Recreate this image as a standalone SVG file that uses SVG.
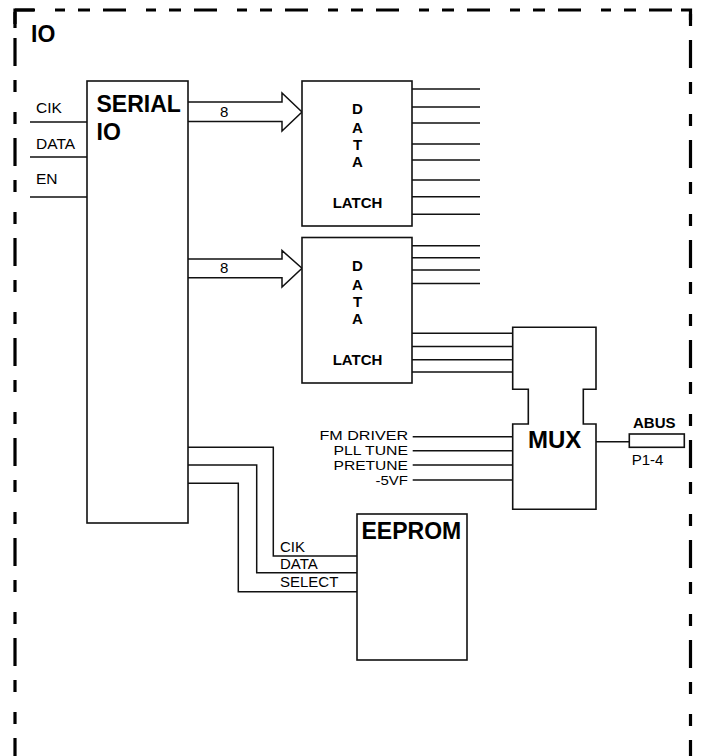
<svg xmlns="http://www.w3.org/2000/svg" width="704" height="756" viewBox="0 0 704 756">
<style>
.box{fill:#fff;stroke:#111;stroke-width:1.6}
.ln{fill:none;stroke:#111;stroke-width:1.5}
.frame{fill:none;stroke:#000;stroke-width:3.2}
.t{font-family:"Liberation Sans",Arial,sans-serif;fill:#000}
.b{font-weight:bold}
.s15{font-size:15.5px}
.s14{font-size:13.5px}
.mid{text-anchor:middle}
.end{text-anchor:end}
</style>
<rect x="0" y="0" width="704" height="756" fill="#fff"/>
<g id="frame">
<path class="frame" d="M15,10 H690.5" stroke-dasharray="10 13 12 13 23 20" stroke-dashoffset="51"/>
<path class="frame" d="M15,10 H34 M15,8.5 V28 M681,10 H690.5 V20"/>
<path class="frame" d="M15,10 V756" stroke-dasharray="28 14 12 20 12 14" stroke-dashoffset="-28"/>
<path class="frame" d="M690.5,10 V756" stroke-dasharray="28 14 12 20 12 14" stroke-dashoffset="-30"/>
<text class="t b" x="31" y="41.5" font-size="23">IO</text>
</g>
<g id="connectors">
<path class="ln" d="M30,122 H87 M30,157 H87 M30,197 H87"/>
<path class="ln" d="M188,102 H282 V93 L302,112 L282,131 V121.5 H188" fill="#fff"/>
<path class="ln" d="M188,259 H282 V250.5 L302,268.3 L282,287 V277.7 H188" fill="#fff"/>
<path class="ln" d="M412,89 H480 M412,107 H480 M412,123 H480 M412,144 H480 M412,160 H480 M412,180 H480 M412,196.7 H480 M412,214.3 H480"/>
<path class="ln" d="M412,245.7 H480 M412,257.7 H480 M412,270 H480 M412,283.5 H480"/>
<path class="ln" d="M412,333.3 H512.7 M412,346.5 H512.7 M412,359.7 H512.7 M412,372 H512.7"/>
<path class="ln" d="M412.7,436.7 H512.7 M412.7,450.7 H512.7 M412.7,465 H512.7 M412.7,480 H512.7"/>
<path class="ln" d="M596,441.7 H629.3"/>
<path class="ln" d="M188,447.3 H273.3 V556 H357 M188,465 H256.7 V572.7 H357 M188,483.3 H238.3 V591.7 H357"/>
<text class="t s15" x="36" y="113">CIK</text>
<text class="t s15" x="36" y="149">DATA</text>
<text class="t s15" x="36" y="184">EN</text>
<text class="t" x="220" y="116.5" font-size="15">8</text>
<text class="t" x="220" y="273.3" font-size="15">8</text>
<text class="t s14" x="319.5" y="440" textLength="88.5" lengthAdjust="spacingAndGlyphs">FM DRIVER</text>
<text class="t s14" x="333.5" y="455.2" textLength="74.5" lengthAdjust="spacingAndGlyphs">PLL TUNE</text>
<text class="t s14" x="333.5" y="470" textLength="74.5" lengthAdjust="spacingAndGlyphs">PRETUNE</text>
<text class="t s14" x="375.5" y="485" textLength="32.5" lengthAdjust="spacingAndGlyphs">-5VF</text>
<text class="t" x="280" y="551.7" font-size="15">CIK</text>
<text class="t" x="280" y="569.3" font-size="15">DATA</text>
<text class="t" x="280" y="587.3" font-size="15">SELECT</text>
</g>
<g id="serial-io">
<rect class="box" x="87" y="81" width="101" height="442"/>
<text class="t b" x="96.5" y="112" font-size="23">SERIAL</text>
<text class="t b" x="96.5" y="139.5" font-size="23">IO</text>
</g>
<g id="latch1">
<rect class="box" x="302" y="81" width="110" height="145"/>
<text class="t b mid" x="357.5" y="114" font-size="15">D</text>
<text class="t b mid" x="357.5" y="133" font-size="15">A</text>
<text class="t b mid" x="357.5" y="150" font-size="15">T</text>
<text class="t b mid" x="357.5" y="167" font-size="15">A</text>
<text class="t b mid" x="357.5" y="208" font-size="15">LATCH</text>
</g>
<g id="latch2">
<rect class="box" x="302" y="237.5" width="110" height="145.5"/>
<text class="t b mid" x="357.5" y="270.5" font-size="15">D</text>
<text class="t b mid" x="357.5" y="289.5" font-size="15">A</text>
<text class="t b mid" x="357.5" y="306.5" font-size="15">T</text>
<text class="t b mid" x="357.5" y="323.5" font-size="15">A</text>
<text class="t b mid" x="357.5" y="365" font-size="15">LATCH</text>
</g>
<g id="mux">
<path class="box" d="M512.7,327.3 H596 V389.3 H583.3 V424 H596 V509.3 H512.7 V424 H528.3 V389.3 H512.7 Z"/>
<text class="t b" x="528" y="448.3" font-size="24">MUX</text>
</g>
<g id="abus">
<rect class="box" x="629.3" y="434" width="55" height="13.3"/>
<text class="t b" x="633" y="428.3" font-size="15">ABUS</text>
<text class="t" x="631.7" y="465" font-size="15">P1-4</text>
</g>
<g id="eeprom">
<rect class="box" x="357" y="514" width="110" height="146"/>
<text class="t b" x="361.5" y="539.3" font-size="23">EEPROM</text>
</g>
</svg>
